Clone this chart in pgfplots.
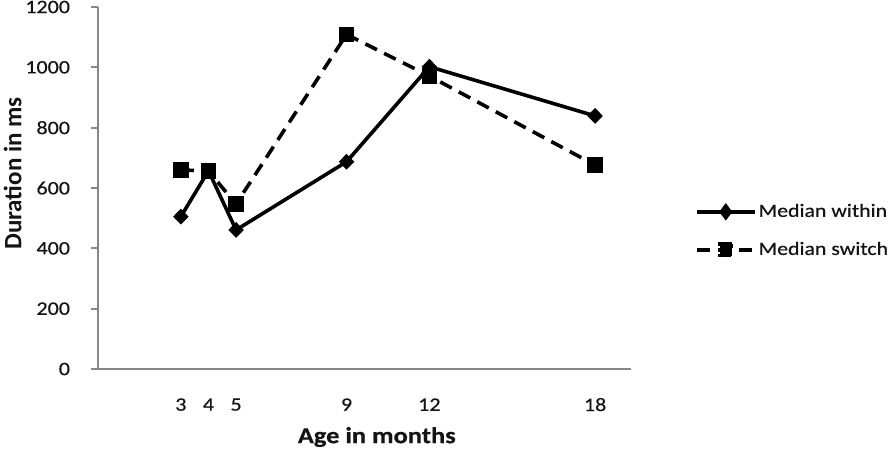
\documentclass[border=0pt]{standalone}
\usepackage{fontspec}
\setmainfont{Carlito}[FakeStretch=1.16, FakeBold=0.5]
\newfontfamily\ylabfont{Carlito}
\usepackage{pgfplots}
\pgfplotsset{compat=1.18}
\definecolor{axgray}{RGB}{134,134,134}
\definecolor{txt}{RGB}{20,20,20}
\begin{document}
\begin{tikzpicture}
\useasboundingbox (0,0) rectangle (446pt,225.5pt);
\begin{axis}[
  at={(49pt,41pt)}, anchor=south west,
  scale only axis, width=266.5pt, height=181pt,
  xmin=0, xmax=19.3, ymin=0, ymax=1200,
  axis x line*=bottom, axis y line*=left,
  axis line style={-, axgray, line width=1pt},
  xtick={3,4,5,9,12,18}, ytick={0,200,...,1200},
  tick align=outside, major tick length=3.3pt,
  xtick style={draw=none},
  ytick style={axgray, line width=1pt},
  /pgf/number format/assume math mode=true,
  /pgf/number format/1000 sep={},
  tick label style={font=\fontsize{9.5}{11}\selectfont, text=txt},
  xticklabel style={anchor=center, yshift=-14.5pt},
  yticklabel style={anchor=east, inner sep=0pt, xshift=-10.5pt},
  xlabel={Age in months},
  xlabel style={at={(axis description cs:0.523,-0.188)}, anchor=center, font=\fontsize{11.4}{13}\selectfont\bfseries, text=txt},
  ylabel={\ylabfont\bfseries Duration in ms},
  ylabel style={at={(axis description cs:-0.16,0.54)}, anchor=center, rotate=0, font=\fontsize{12.5}{14}\selectfont, text=txt},
  legend style={at={(rel axis cs:1.12,0.3816)}, anchor=west, draw=none, fill=none,
    inner sep=0pt, outer sep=0pt, row sep=11pt, column sep=1pt,
    font=\fontsize{9.4}{11}\selectfont, text=txt,
    nodes={inner sep=0pt, anchor=west}},
  legend cell align=left,
  legend image code/.code={%
    \draw[mark repeat=2, mark phase=2, mark options={scale=0.8}]
      plot coordinates {(0pt,0pt) (14.5pt,0pt) (29pt,0pt)};},
]
\addplot[black, line width=1.8pt, mark=diamond*, mark size=3.6pt,
  mark options={solid, line width=0.5pt, xscale=1.3}]
  coordinates {(3,505) (4,657) (5,461) (9,687) (12,1002) (18,839)};
\addlegendentry{Median within}
\addplot[black, line width=1.8pt, dash pattern=on 6.5pt off 4pt, mark=square*, mark size=3.6pt,
  mark options={solid, line width=0.5pt}]
  coordinates {(3,660) (4,656) (5,547) (9,1109) (12,971) (18,676)};
\addlegendentry{Median switch}
\end{axis}
\end{tikzpicture}
\end{document}
